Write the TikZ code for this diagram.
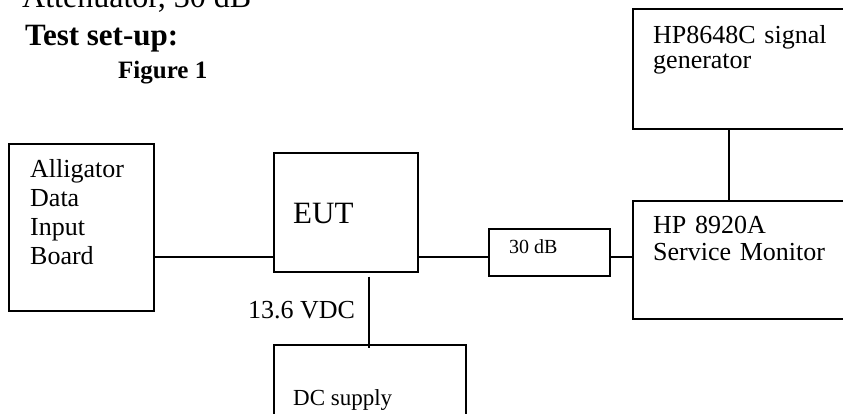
\documentclass[tikz,border=0pt]{standalone}
\usepackage{fontspec}
\setmainfont{Liberation Serif}
\tikzstyle{block}=[draw, line width=1.6pt, inner sep=0pt,
                   anchor=north west]
\tikzstyle{wire} =[line width=1.6pt]
\tikzstyle{lbl}  =[anchor=base west, inner sep=0pt, align=left,
                   font=\fontsize{26}{29}\selectfont]
\begin{document}
\begin{tikzpicture}[x=1pt,y=-1pt]
\clip (0,0) rectangle (843,413);
%%%%%%%%%%%%%%%%%%%%%%%%%%%%%%%%%%%%%%%%%%%%%%%%
%%%%%%%%%%           Heading          %%%%%%%%%%
%%%%%%%%%%%%%%%%%%%%%%%%%%%%%%%%%%%%%%%%%%%%%%%%
\node (attn) [lbl,font=\fontsize{32}{36}\selectfont] at (22,7) {Attenuator, 30 dB};
\node (title) [lbl,font=\fontsize{31}{36}\selectfont\bfseries] at (25,45) {Test set-up:};
\node (fig) [lbl,font=\fontsize{25}{30}\selectfont\bfseries] at (118,78) {Figure 1};

%%%%%%%%%%%%%%%%%%%%%%%%%%%%%%%%%%%%%%%%%%%%%%%%
%%%%%%%%%%           Blocks           %%%%%%%%%%
%%%%%%%%%%%%%%%%%%%%%%%%%%%%%%%%%%%%%%%%%%%%%%%%
\node (adib) [block,minimum width=145pt,minimum height=167pt] at (8,143){};
\node (eut)  [block,minimum width=144pt,minimum height=119pt] at (273,152){};
\node (pad)  [block,minimum width=121pt,minimum height=47pt]  at (488,228){};
\node (smon) [block,minimum width=240pt,minimum height=118pt] at (632,200){};
\node (sgen) [block,minimum width=240pt,minimum height=120pt] at (632,8){};
\node (dcs)  [block,minimum width=192pt,minimum height=100pt] at (273,344){};

\node (adibT) [lbl,text width=120pt] at (30,177) {Alligator\\Data\\Input\\Board};
\node (eutT)  [lbl,font=\fontsize{31}{36}\selectfont] at (293,223) {EUT};
\node (padT)  [lbl,font=\fontsize{20}{24}\selectfont] at (509,253) {30 dB};
\node (smonT) [lbl,text width=200pt,font=\fontsize{26}{27}\selectfont] at (653,233) {HP 8920A\\Service Monitor};
\node (sgenT) [lbl,text width=200pt,font=\fontsize{26}{25}\selectfont] at (653,43) {HP8648C signal\\generator};
\node (dcsT)  [lbl,font=\fontsize{23}{27}\selectfont] at (293,405) {DC supply};
\node (volt)  [lbl] at (248,318) {13.6 VDC};

%%%%%%%%%%%%%%%%%%%%%%%%%%%%%%%%%%%%%%%%%%%%%%%%
%%%%%%%%%%           Wires            %%%%%%%%%%
%%%%%%%%%%%%%%%%%%%%%%%%%%%%%%%%%%%%%%%%%%%%%%%%
\coordinate (rf) at (0,257);
\coordinate (gx) at (729,0);
\coordinate (px) at (369,0);

\draw [wire] (adib.east |- rf) -- (eut.west |- rf);
\draw [wire] (eut.east |- rf) -- (pad.west |- rf);
\draw [wire] (pad.east |- rf) -- (smon.west |- rf);
\draw [wire] (sgen.south -| gx) -- (smon.north -| gx);
\draw [wire] ([yshift=-4pt]eut.south -| px) -- ([yshift=-4pt]dcs.north -| px);

\end{tikzpicture}
\end{document}
